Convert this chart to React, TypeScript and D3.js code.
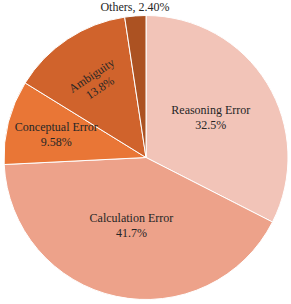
import * as d3 from 'd3';

// DATA
const categories = ['Reasoning Error', 'Calculation Error', 'Conceptual Error', 'Ambiguity', 'Others'];
const shares = [32.5, 41.7, 9.58, 13.8, 2.4];
const valueLabels = ['32.5%', '41.7%', '9.58%', '13.8%', '2.40%'];
const colors = ['#f2c4b8', '#eda28a', '#e97636', '#d0632c', '#ac5222'];

// label placement (fraction of radius)
const labelRadius = [0.535, 0.49, 0.652, 0.64, 1.035];

const width = 291;
const height = 304;
const cx = 146;
const cy = 157.5;
const radius = 142;
const font = "'Liberation Serif', 'Times New Roman', serif";

function App() {
  const pie = d3
    .pie<number>()
    .sort(null)
    .value((d) => d);
  const arcs = pie(shares);
  const arc = d3.arc<d3.PieArcDatum<number>>().innerRadius(0).outerRadius(radius);

  return (
    <svg
      width={width}
      height={height}
      style={{ position: 'absolute', left: 0, top: 0, background: '#fff', fontFamily: font }}
    >
      <g transform={`translate(${cx},${cy})`}>
        {arcs.map((a, i) => (
          <path key={categories[i]} d={arc(a) || ''} fill={colors[i]} stroke="#fff" strokeWidth={1} />
        ))}
        {arcs.map((a, i) => {
          const mid = (a.startAngle + a.endAngle) / 2;
          const r = radius * labelRadius[i];
          const x = Math.sin(mid) * r;
          const y = -Math.cos(mid) * r;
          const name = categories[i];
          if (name === 'Others') {
            return (
              <text key={name} x={x} y={y} textAnchor="middle" fontSize={12} fill="#262626" style={{ fontFamily: font }}>
                {`${name}, ${valueLabels[i]}`}
              </text>
            );
          }
          // ambiguity label follows the slice direction
          const rot = name === 'Ambiguity' ? (mid * 180) / Math.PI - 360 : 0;
          return (
            <text
              key={name}
              transform={`translate(${x},${y}) rotate(${rot})`}
              textAnchor="middle"
              fontSize={12}
              fill="#262626"
              style={{ fontFamily: font }}
            >
              <tspan x={0} dy={-3.5}>{name}</tspan>
              <tspan x={0} dy={15}>{valueLabels[i]}</tspan>
            </text>
          );
        })}
      </g>
    </svg>
  );
}

export default App;
